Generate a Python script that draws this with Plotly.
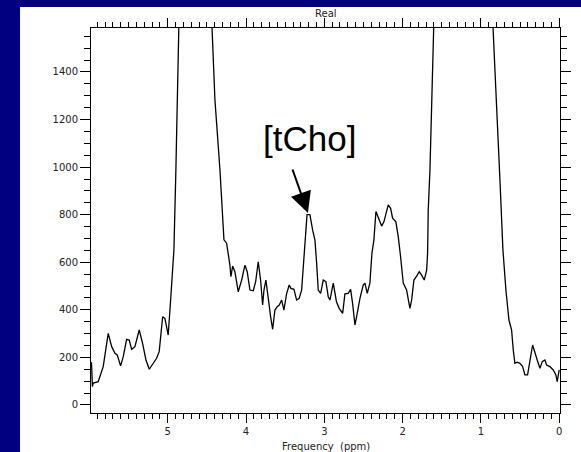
import plotly.graph_objects as go

# Chemical shift (ppm) and real-part signal amplitude of the spectrum
ppm = [
    5.974, 5.962, 5.951, 5.888, 5.824, 5.789, 5.760, 5.716, 5.674, 5.645,
    5.602, 5.568, 5.525, 5.492, 5.461, 5.419, 5.364, 5.321, 5.278, 5.236,
    5.185, 5.142, 5.109, 5.065, 5.036, 4.994, 4.963, 4.937, 4.921, 4.895,
    4.870, 4.844, 4.800, 4.720, 4.620, 4.520, 4.470, 4.436, 4.397, 4.333,
    4.282, 4.248, 4.227, 4.206, 4.193, 4.171, 4.142, 4.100, 4.056, 4.014,
    3.985, 3.950, 3.908, 3.877, 3.844, 3.814, 3.788, 3.771, 3.746, 3.716,
    3.686, 3.660, 3.631, 3.602, 3.576, 3.545, 3.516, 3.481, 3.448, 3.427,
    3.388, 3.354, 3.321, 3.290, 3.269, 3.248, 3.235, 3.221, 3.184, 3.149,
    3.120, 3.098, 3.078, 3.047, 3.014, 2.980, 2.950, 2.928, 2.886, 2.845,
    2.810, 2.766, 2.737, 2.695, 2.664, 2.639, 2.609, 2.580, 2.545, 2.503,
    2.481, 2.452, 2.418, 2.392, 2.367, 2.341, 2.312, 2.268, 2.239, 2.213,
    2.184, 2.153, 2.128, 2.086, 2.056, 2.026, 1.992, 1.949, 1.928, 1.907,
    1.885, 1.856, 1.821, 1.788, 1.757, 1.724, 1.693, 1.681, 1.673, 1.651,
    1.626, 1.613, 1.550, 1.450, 1.300, 1.200, 1.100, 1.000, 0.920, 0.847,
    0.821, 0.796, 0.757, 0.719, 0.681, 0.642, 0.608, 0.587, 0.566, 0.536,
    0.502, 0.467, 0.438, 0.404, 0.383, 0.365, 0.340, 0.310, 0.281, 0.246,
    0.217, 0.183, 0.161, 0.119, 0.077, 0.042, 0.026, 0.000,
]
signal = [
    180, 77, 92, 98, 161, 231, 301, 245, 217, 210,
    164, 203, 276, 273, 234, 245, 315, 259, 189, 150,
    175, 196, 224, 371, 364, 294, 441, 581, 652, 1000,
    1252, 1600, 2400, 3800, 3300, 2200, 1750, 1600, 1282, 988,
    694, 680, 638, 588, 539, 584, 560, 476, 525, 588,
    560, 483, 480, 518, 602, 525, 420, 483, 525, 441,
    371, 318, 399, 413, 420, 441, 399, 469, 504, 490,
    486, 441, 448, 483, 567, 665, 735, 800, 800, 735,
    693, 595, 483, 469, 525, 518, 455, 441, 512, 434,
    406, 385, 467, 469, 486, 427, 336, 385, 448, 504,
    512, 469, 512, 638, 693, 813, 785, 752, 770, 806,
    841, 827, 785, 770, 708, 623, 512, 483, 441, 406,
    441, 525, 542, 560, 546, 525, 567, 638, 820, 988,
    1300, 1600, 2500, 3500, 4200, 4000, 3200, 2300, 1800, 1600,
    1408, 1240, 946, 652, 483, 357, 315, 231, 175, 180,
    175, 161, 126, 126, 161, 203, 252, 224, 189, 154,
    182, 189, 168, 161, 147, 126, 98, 147,
]

x_ticks = [5, 4, 3, 2, 1, 0]
y_ticks = [0, 200, 400, 600, 800, 1000, 1200, 1400]

peak_label = "[tCho]"
peak_ppm = 3.209
peak_value = 807

fig = go.Figure()
fig.add_trace(go.Scatter(
    x=ppm, y=signal, mode="lines",
    line=dict(color="black", width=1.3),
    hoverinfo="skip", showlegend=False,
))

axis_common = dict(
    showgrid=False, zeroline=False, automargin=False,
    showline=True, linecolor="black", linewidth=1,
    mirror="ticks", ticks="outside", tickwidth=1, tickcolor="black",
    tickfont=dict(family="DejaVu Sans", size=10, color="#222222"),
)

fig.update_xaxes(
    range=[5.98, -0.01], tickvals=x_ticks, ticklen=9,
    minor=dict(dtick=0.1, ticks="outside", ticklen=5, tickwidth=1, tickcolor="black"),
    **axis_common,
)
fig.update_yaxes(
    range=[-34, 1585], tickvals=y_ticks, ticklen=10,
    minor=dict(dtick=50, ticks="outside", ticklen=6, tickwidth=1, tickcolor="black"),
    **axis_common,
)

# White page panel on the navy slide background
fig.add_shape(
    type="rect", xref="paper", yref="paper",
    x0=-0.1514, x1=1.05, y0=-0.11, y1=1.0545,
    fillcolor="white", line=dict(width=0), layer="below",
)

fig.add_annotation(
    text="Real", xref="paper", yref="paper", x=0.5, y=1.038,
    showarrow=False, yanchor="middle",
    font=dict(family="DejaVu Sans", size=10, color="#222222"),
)
fig.add_annotation(
    text="Frequency  (ppm)", xref="paper", yref="paper", x=0.5, y=-0.086,
    showarrow=False, yanchor="middle",
    font=dict(family="DejaVu Sans", size=10, color="#222222"),
)

# Peak label and arrow pointing to the choline peak
fig.add_annotation(
    text=peak_label, xref="x", yref="y", x=3.19, y=1120,
    showarrow=False, yanchor="middle",
    font=dict(family="Liberation Sans", size=35, color="black"),
)
fig.add_annotation(
    text="", xref="x", yref="y", x=peak_ppm, y=peak_value,
    ax=-16, ay=-45, showarrow=True,
    arrowhead=2, arrowsize=2.1, arrowwidth=2, arrowcolor="black", standoff=0,
)

fig.update_layout(
    width=581, height=452,
    margin=dict(l=91, r=21, t=28, b=39),
    paper_bgcolor="#000080", plot_bgcolor="white",
)

fig.write_html("out.html")
